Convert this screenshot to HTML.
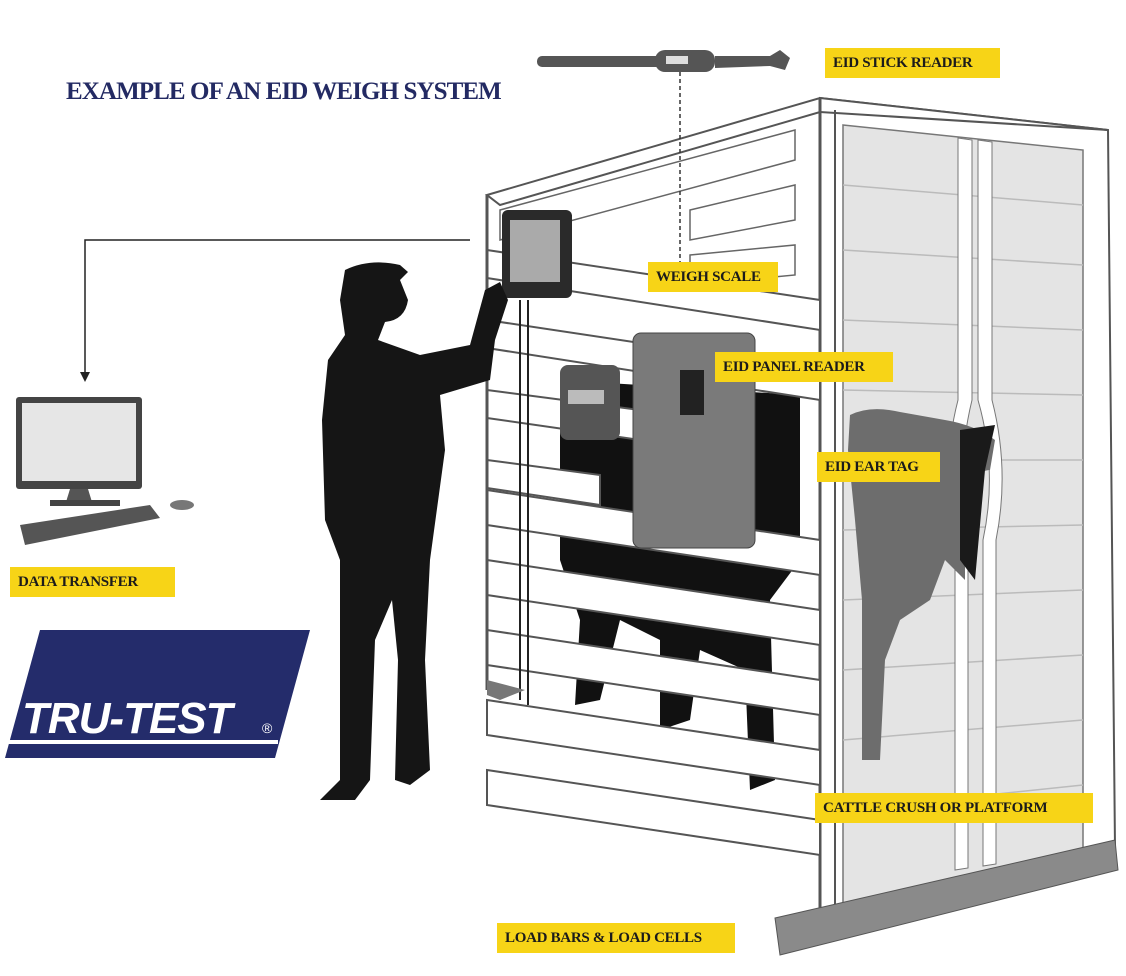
<!DOCTYPE html>
<html><head><meta charset="utf-8"><style>
html,body{margin:0;padding:0;background:#fff;}
.wrap{position:relative;width:1126px;height:976px;overflow:hidden;background:#fff;font-family:"Liberation Serif",serif;}
.lab{position:absolute;background:#f7d417;color:#1b1b1b;font-weight:bold;font-size:15px;line-height:30px;height:30px;padding:0 8px;box-sizing:border-box;white-space:nowrap;letter-spacing:-0.3px;}
.title{position:absolute;left:66px;top:78px;color:#232a63;font-weight:bold;font-size:25px;letter-spacing:-0.9px;}
svg{position:absolute;left:0;top:0;}
</style></head><body><div class="wrap">
<svg width="1126" height="976" viewBox="0 0 1126 976">
<polygon points="820,98 1108,130 1115,848 820,930" fill="#fff" stroke="#555" stroke-width="2"/>
<polygon points="843,125 1083,150 1083,868 843,905" fill="#e4e4e4" stroke="#777" stroke-width="1.5"/>
<g stroke="#bbb" stroke-width="1.5">
<line x1="843" y1="185" x2="1083" y2="205"/><line x1="843" y1="250" x2="1083" y2="265"/>
<line x1="843" y1="320" x2="1083" y2="330"/><line x1="843" y1="390" x2="1083" y2="395"/>
<line x1="843" y1="460" x2="1083" y2="460"/><line x1="843" y1="530" x2="1083" y2="525"/>
<line x1="843" y1="600" x2="1083" y2="590"/><line x1="843" y1="670" x2="1083" y2="655"/>
<line x1="843" y1="740" x2="1083" y2="720"/><line x1="843" y1="810" x2="1083" y2="785"/>
</g>
<path d="M958,138 L958,400 Q940,470 955,540 L955,870 L968,868 L968,540 Q955,470 972,400 L972,140 Z" fill="#fff" stroke="#777"/>
<path d="M978,140 L978,400 Q998,470 983,540 L983,866 L996,864 L996,540 Q1010,470 992,400 L992,142 Z" fill="#fff" stroke="#777"/>
<path d="M850,415 Q870,405 900,412 L945,420 Q975,425 995,440 L990,470 Q975,470 965,500 L965,580 L945,560 L930,600 L900,620 L885,660 L880,760 L862,760 L862,600 L855,520 L848,450 Z" fill="#6d6d6d"/>
<path d="M960,430 L995,425 L985,470 L975,580 L960,560 Z" fill="#1a1a1a"/>
<polygon points="487,195 820,98 1108,130 820,112 500,205" fill="#fff" stroke="#555" stroke-width="2"/>
<line x1="820" y1="98" x2="820" y2="930" stroke="#555" stroke-width="3"/>
<line x1="835" y1="110" x2="835" y2="925" stroke="#555" stroke-width="2"/>
<g stroke="#666" stroke-width="1.5" fill="#fff">
<polygon points="500,210 795,130 795,160 500,240"/>
<polygon points="690,210 795,185 795,220 690,240"/>
<polygon points="690,255 795,245 795,275 690,285"/>
</g>
<path d="M560,380 L800,395 L800,560 L770,600 L775,780 L750,790 L745,670 L700,650 L690,720 L660,730 L660,640 L620,620 L600,700 L575,705 L580,620 L560,560 Z" fill="#111"/>
<g fill="#fff" stroke="#555" stroke-width="2">
<polygon points="487,250 820,300 820,330 487,278"/>
<polygon points="487,320 820,370 820,400 487,348"/>
<polygon points="487,390 640,410 640,440 487,418"/>
<polygon points="487,460 600,475 600,505 487,488"/>
<polygon points="487,490 820,540 820,575 487,525"/>
<polygon points="487,560 820,610 820,645 487,595"/>
<polygon points="487,630 820,680 820,715 487,665"/>
<polygon points="487,700 820,750 820,785 487,735"/>
<polygon points="487,770 820,820 820,855 487,805"/>
</g>
<line x1="487" y1="195" x2="487" y2="690" stroke="#555" stroke-width="3"/>
<line x1="520" y1="300" x2="520" y2="700" stroke="#222" stroke-width="2"/>
<line x1="528" y1="300" x2="528" y2="705" stroke="#222" stroke-width="2"/>
<polygon points="487,680 525,690 500,700 487,695" fill="#777"/>
<polygon points="775,918 1115,840 1118,870 780,955" fill="#8a8a8a" stroke="#555"/>
<rect x="633" y="333" width="122" height="215" rx="8" fill="#7a7a7a" stroke="#444"/>
<rect x="680" y="370" width="24" height="45" fill="#222"/>
<rect x="560" y="365" width="60" height="75" rx="8" fill="#555"/>
<rect x="568" y="390" width="36" height="14" fill="#bbb"/>
<rect x="502" y="210" width="70" height="88" rx="6" fill="#2a2a2a"/>
<rect x="510" y="220" width="50" height="62" fill="#aaa"/>
<rect x="537" y="56" width="130" height="11" rx="5" fill="#555"/>
<rect x="655" y="50" width="60" height="22" rx="10" fill="#555"/>
<rect x="666" y="56" width="22" height="8" fill="#ddd"/>
<path d="M715,56 L770,56 L780,50 L790,58 L785,70 L770,66 L715,68 Z" fill="#555"/>
<line x1="680" y1="72" x2="680" y2="290" stroke="#333" stroke-width="1.5" stroke-dasharray="4,3"/>
<polyline points="470,240 85,240 85,375" fill="none" stroke="#222" stroke-width="1.5"/>
<polygon points="80,372 90,372 85,382" fill="#222"/>
<path d="M345,270 Q370,258 400,265 L408,272 L400,280 L408,300 Q405,320 385,322 L378,340 L420,355 L470,345 L485,290 L500,282 L508,300 L495,340 L490,380 L440,395 L445,450 L430,560 L425,660 L430,770 L410,785 L395,780 L398,660 L392,600 L375,640 L370,780 L355,800 L320,800 L340,780 L340,660 L340,560 L325,520 L322,420 L328,360 L345,335 L340,300 Z" fill="#151515"/>
<rect x="16" y="397" width="126" height="92" rx="3" fill="#444"/>
<rect x="22" y="403" width="114" height="78" fill="#e6e6e6"/>
<path d="M70,489 L88,489 L92,502 L66,502 Z" fill="#555"/>
<rect x="50" y="500" width="70" height="6" fill="#444"/>
<polygon points="20,525 150,505 160,518 25,545" fill="#555"/>
<ellipse cx="182" cy="505" rx="12" ry="5" fill="#777"/>
<polygon points="40,630 310,630 275,758 5,758" fill="#242c6b"/>
<rect x="0" y="740" width="278" height="4" fill="#fff"/>
<text x="22" y="733" fill="#fff" font-family="Liberation Sans,sans-serif" font-style="italic" font-weight="bold" font-size="44" letter-spacing="-1">TRU-TEST</text>
<text x="262" y="733" fill="#fff" font-family="Liberation Sans,sans-serif" font-size="14">®</text>
</svg>
<div class="title">EXAMPLE OF AN EID WEIGH SYSTEM</div>
<div class="lab" style="left:825px;top:48px;width:175px;">EID STICK READER</div>
<div class="lab" style="left:648px;top:262px;width:130px;">WEIGH SCALE</div>
<div class="lab" style="left:715px;top:352px;width:178px;">EID PANEL READER</div>
<div class="lab" style="left:817px;top:452px;width:123px;">EID EAR TAG</div>
<div class="lab" style="left:10px;top:567px;width:165px;">DATA TRANSFER</div>
<div class="lab" style="left:815px;top:793px;width:278px;">CATTLE CRUSH OR PLATFORM</div>
<div class="lab" style="left:497px;top:923px;width:238px;">LOAD BARS &amp; LOAD CELLS</div>
</div></body></html>
